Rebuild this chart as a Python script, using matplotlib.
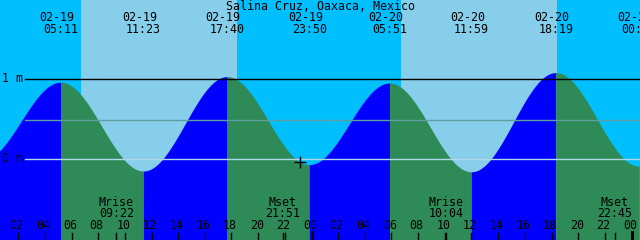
import numpy as np
import matplotlib
matplotlib.use('Agg')
import matplotlib.pyplot as plt
import matplotlib.transforms as mtransforms

# tide extremes (hours from 02-19 00:00, height in m)
tide_hours = [-0.75, 5 + 11/60, 11 + 23/60, 17 + 40/60, 23 + 50/60,
              24 + 5 + 51/60, 24 + 11 + 59/60, 24 + 18 + 19/60, 48 + 34/60]
tide_heights = [-0.02, 0.96, -0.15, 1.03, -0.07, 0.95, -0.16, 1.08, -0.09]
tide_dates = ['02-18', '02-19', '02-19', '02-19', '02-19', '02-20', '02-20', '02-20', '02-21']
tide_labels = ['23:15', '05:11', '11:23', '17:40', '23:50', '05:51', '11:59', '18:19', '00:34']

# sun (day periods) and moon
sunrise = [6 + 43/60, 24 + 6 + 43/60]
sunset = [18 + 25/60, 24 + 18 + 25/60]
moon_hours = [9 + 22/60, 21 + 51/60, 24 + 10 + 4/60, 24 + 22 + 45/60]
moon_names = ['Mrise', 'Mset', 'Mrise', 'Mset']
moon_labels = ['09:22', '21:51', '10:04', '22:45']

now_hour = 23 + 8/60
levels = [1.0, 0.4875, 0.0]
level_colors = ['black', '#5F9EA0', '#ADD8E6']

title = 'Salina Cruz, Oaxaca, Mexico'

# chart window: 48 h, 640 px
t0 = 8.5 / (640 / 48)
t1 = t0 + 48
ybot = -81 / 80
ytop = 159 / 80

def tide_at(t):
    t = np.asarray(t, dtype=float)
    h = np.zeros_like(t)
    for i in range(len(tide_hours) - 1):
        a, b = tide_hours[i], tide_hours[i + 1]
        ha, hb = tide_heights[i], tide_heights[i + 1]
        m = (t >= a) & (t <= b)
        p = (t[m] - a) / (b - a)
        h[m] = ha + (hb - ha) * (1 - np.cos(np.pi * p)) / 2
    return h

fig = plt.figure(figsize=(6.4, 2.4), dpi=100)
ax = fig.add_axes([0, 0, 1, 1])
ax.set_xlim(t0, t1)
ax.set_ylim(ybot, ytop)
ax.axis('off')
ax.add_patch(plt.Rectangle((0, 0), 1, 1, transform=ax.transAxes, color='#00BFFF', zorder=0))

for sr, ss in zip(sunrise, sunset):
    ax.axvspan(sr, ss, color='#87CEEB', lw=0, zorder=1)

for i in range(len(tide_hours) - 1):
    a, b = tide_hours[i], tide_hours[i + 1]
    tt = np.linspace(a, b, 300)
    col = '#0000FF' if tide_heights[i + 1] > tide_heights[i] else '#2E8B57'
    ax.fill_between(tt, tide_at(tt), ybot, color=col, lw=0, zorder=2)

for lev, col in zip(levels, level_colors):
    ax.axhline(lev, xmin=25 / 640, xmax=1, color=col, lw=1, zorder=3)

mono = 'DejaVu Sans Mono'
fs = 8.4
ax.text(2 / 640, 1.0, '1 m', transform=ax.get_yaxis_transform(which='grid'),
        fontsize=fs, family=mono, va='center', ha='left', zorder=4)
ax.text(2 / 640, 0.0, '0 m', transform=ax.get_yaxis_transform(which='grid'),
        fontsize=fs, family=mono, va='center', ha='left', zorder=4)

bt = mtransforms.blended_transform_factory(ax.transData, ax.transAxes)

def yf(ypix):
    return 1 - ypix / 240

ax.text(0.5, yf(6), title, transform=ax.transAxes, fontsize=fs, family=mono,
        ha='center', va='center', zorder=4)

for th, d, lab in zip(tide_hours, tide_dates, tide_labels):
    if th < t0:
        continue  # extreme before the window gets no label
    ax.annotate(d, xy=(th, yf(17.7)), xycoords=bt, xytext=(-4, 0), textcoords='offset pixels',
                fontsize=fs, family=mono, ha='center', va='center', zorder=4)
    ax.text(th, yf(29.5), lab, transform=bt, fontsize=fs, family=mono,
            ha='center', va='center', zorder=4)

for mh, name, lab in zip(moon_hours, moon_names, moon_labels):
    ax.text(mh, yf(202.5), name, transform=bt, fontsize=fs, family=mono,
            ha='center', va='center', zorder=4)
    ax.text(mh, yf(213.7), lab, transform=bt, fontsize=fs, family=mono,
            ha='center', va='center', zorder=4)
    ax.axvline(mh, ymin=0, ymax=7 / 240, color='black', lw=1, zorder=4)

for hr in range(2, 49, 2):
    lab = '%02d' % (hr % 24)
    ax.annotate(lab, xy=(hr, yf(225.5)), xycoords=bt, xytext=(-1.5, 0), textcoords='offset pixels',
                fontsize=fs, family=mono, ha='center', va='center', zorder=4)
    if hr % 24 == 0:
        ax.axvline(hr, ymin=0, ymax=8 / 240, color='black', lw=2.2, zorder=4)
    else:
        ax.axvline(hr, ymin=0, ymax=7 / 240, color='black', lw=1, zorder=4)

ax.plot([now_hour], tide_at([now_hour]), marker='+', color='black', ms=8, mew=1, zorder=5)

fig.savefig('out.png', dpi=100)
